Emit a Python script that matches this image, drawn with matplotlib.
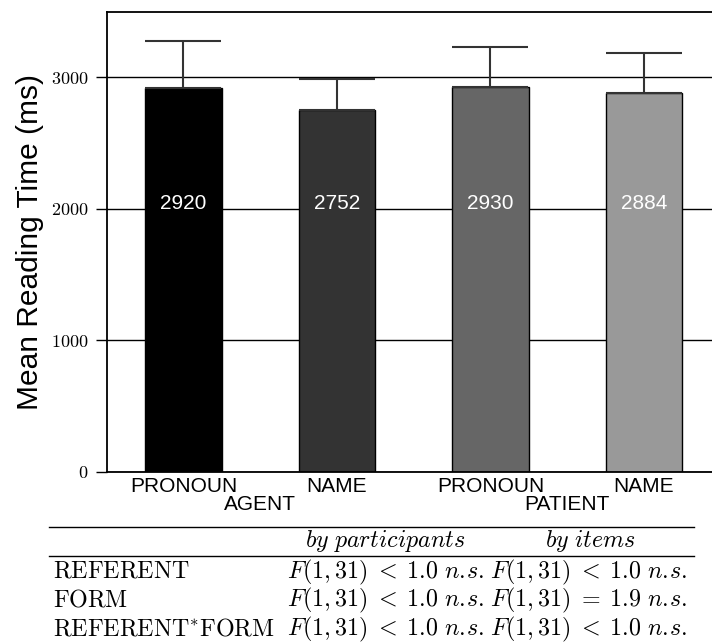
import matplotlib
matplotlib.use('Agg')
import matplotlib.pyplot as plt
import numpy as np
from matplotlib.lines import Line2D

plt.rcParams['font.family'] = ['Liberation Sans', 'DejaVu Sans']
plt.rcParams['mathtext.fontset'] = 'cm'

# data
conditions = ['PRONOUN', 'NAME', 'PRONOUN', 'NAME']
groups = ['AGENT', 'PATIENT']
means = [2920, 2752, 2930, 2884]
errors = [359, 233, 303, 304]
bar_colors = ['#000000', '#333333', '#666666', '#999999']
yticks = [0, 1000, 2000, 3000]
ytick_labels = ['$0$', '$1000$', '$2000$', '$3000$']

table_header = [r'$by\ participants$', r'$by\ items$']
table_rows = [r'$\mathrm{REFERENT}$', r'$\mathrm{FORM}$', r'$\mathrm{REFERENT}^{\ast}\mathrm{FORM}$']
table_participants = [r'$F(1,31)\;<\;1.0\ n.\!s.$',
                      r'$F(1,31)\;<\;1.0\ n.\!s.$',
                      r'$F(1,31)\;<\;1.0\ n.\!s.$']
table_items = [r'$F(1,31)\;<\;1.0\ n.\!s.$',
               r'$F(1,31)\;=\;1.9\ n.\!s.$',
               r'$F(1,31)\;<\;1.0\ n.\!s.$']

W, H = 712, 642
fig = plt.figure(figsize=(W / 100, H / 100), dpi=100)
ax = fig.add_axes([106.7 / W, (H - 471.7) / H, 4 * 153.5 / W, 460 / H])

x = np.arange(len(means))
ax.bar(x, means, width=0.5, color=bar_colors, edgecolor='black', linewidth=1.0, zorder=2)
ax.errorbar(x, means, yerr=[np.zeros(len(errors)), errors], fmt='none',
            ecolor='#333333', elinewidth=1.5, capsize=27.7, capthick=1.5, zorder=3)

for xi, m in zip(x, means):
    ax.text(xi, 2000, f'{m}', color='white', fontsize=15, ha='center', va='baseline', zorder=4)

ax.set_xlim(-0.5, 3.5)
ax.set_ylim(0, 3500)
ax.set_yticks(yticks)
ax.set_yticklabels(ytick_labels, fontsize=13)
ax.set_xticks(x)
ax.set_xticklabels(conditions, fontsize=15)
ax.tick_params(axis='x', length=0, pad=3.5)
ax.tick_params(axis='y', direction='out', length=8, width=1, pad=5)
ax.set_axisbelow(True)
ax.yaxis.grid(True, color='black', linewidth=1.0)
for s in ['left', 'bottom', 'top', 'right']:
    ax.spines[s].set_linewidth(1.3)

for gx, g in zip([0.5, 2.5], groups):
    ax.text(gx, -0.0707, g, fontsize=15, ha='center', va='center',
            transform=ax.get_xaxis_transform())

ax.set_ylabel('Mean Reading Time (ms)', fontsize=21.5, labelpad=5)

# statistics table under the chart
def fx(px):
    return px / W

def fy(py):
    return 1 - py / H

fs = 17.3
fig.add_artist(Line2D([fx(49), fx(694)], [fy(527), fy(527)], color='black', lw=1.0))
fig.add_artist(Line2D([fx(49), fx(694)], [fy(556), fy(556)], color='black', lw=1.0))
fig.text(fx(385), fy(547), table_header[0], fontsize=fs, ha='center', va='baseline')
fig.text(fx(590), fy(547), table_header[1], fontsize=fs, ha='center', va='baseline')
for i, (lab, p, it) in enumerate(zip(table_rows, table_participants, table_items)):
    yb = fy(578 + i * 28.7)
    fig.text(fx(53), yb, lab, fontsize=fs, ha='left', va='baseline')
    fig.text(fx(287), yb, p, fontsize=fs, ha='left', va='baseline')
    fig.text(fx(490), yb, it, fontsize=fs, ha='left', va='baseline')

fig.savefig('out.png', dpi=100)
